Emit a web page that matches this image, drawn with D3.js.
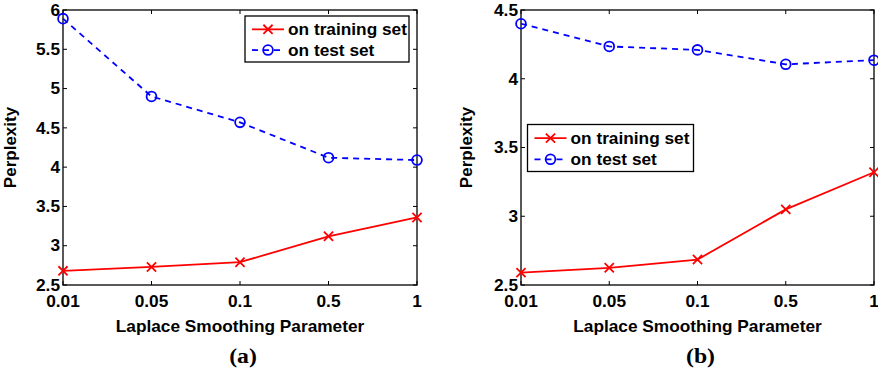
<!DOCTYPE html>
<html>
<head>
<meta charset="utf-8">
<script src="https://cdn.jsdelivr.net/npm/d3@7"></script>
<style>
  html, body { margin: 0; padding: 0; background: #fff; }
  svg { display: block; }
  text { font-family: "Liberation Sans", Arial, Helvetica, sans-serif; font-weight: bold; fill: #000; }
  .caption { font-family: "Liberation Serif", "Times New Roman", serif; font-weight: bold; }
</style>
</head>
<body>
<svg id="chart" width="878" height="371"></svg>
<script>
// Smoothing parameter values (categorical x axis)
const categories = ["0.01", "0.05", "0.1", "0.5", "1"];

// Panel (a) perplexity
const trainA = [2.68, 2.73, 2.79, 3.12, 3.36];
const testA  = [5.89, 4.90, 4.57, 4.12, 4.09];
const yTicksA = [2.5, 3, 3.5, 4, 4.5, 5, 5.5, 6];

// Panel (b) perplexity
const trainB = [2.59, 2.625, 2.685, 3.05, 3.32];
const testB  = [4.40, 4.235, 4.21, 4.105, 4.135];
const yTicksB = [2.5, 3, 3.5, 4, 4.5];

const seriesNames = ["on training set", "on test set"];

const svg = d3.select("#chart");
const FS = 16;      // base label size
const SX = 1.08;    // slight horizontal widening of label glyphs

// horizontal text with a slightly widened glyph shape
function label(g, x, y, str, anchor, size, cls) {
  const t = g.append("g").attr("transform", `translate(${x},${y}) scale(${SX},1)`)
    .append("text")
    .attr("text-anchor", anchor || "start")
    .style("font-size", (size || FS) + "px")
    .text(str);
  if (cls) t.attr("class", cls);
  return t;
}

function drawPanel(cfg) {
  const { left, right, top, bottom } = cfg;
  const g = svg.append("g");

  const x = d3.scalePoint().domain(categories).range([left, right]);
  const y = d3.scaleLinear().domain(cfg.yDomain).range([bottom, top]);
  const tickLen = 4;

  // frame
  g.append("rect")
    .attr("x", left).attr("y", top)
    .attr("width", right - left).attr("height", bottom - top)
    .attr("fill", "none").attr("stroke", "#000").attr("stroke-width", 1.3);

  // inward ticks on all four sides
  const yTickVals = cfg.yTicks;
  g.selectAll(".ytl").data(yTickVals).join("line")
    .attr("x1", left).attr("x2", left + tickLen)
    .attr("y1", d => y(d)).attr("y2", d => y(d))
    .attr("stroke", "#000");
  g.selectAll(".ytr").data(yTickVals).join("line")
    .attr("x1", right).attr("x2", right - tickLen)
    .attr("y1", d => y(d)).attr("y2", d => y(d))
    .attr("stroke", "#000");
  g.selectAll(".xtb").data(categories).join("line")
    .attr("x1", d => x(d)).attr("x2", d => x(d))
    .attr("y1", bottom).attr("y2", bottom - tickLen)
    .attr("stroke", "#000");
  g.selectAll(".xtt").data(categories).join("line")
    .attr("x1", d => x(d)).attr("x2", d => x(d))
    .attr("y1", top).attr("y2", top + tickLen)
    .attr("stroke", "#000");

  // tick labels
  yTickVals.forEach(v => {
    label(g, left - 3, y(v), d3.format("")(v), "end").attr("dy", "0.36em");
  });
  categories.forEach(c => {
    label(g, x(c), bottom + 22, c, "middle");
  });

  // axis titles
  label(g, (left + right) / 2, bottom + 46.5, "Laplace Smoothing Parameter", "middle");
  g.append("text")
    .attr("transform", `translate(${cfg.ylabelX},${(top + bottom) / 2}) rotate(-90)`)
    .attr("text-anchor", "middle").style("font-size", "17px")
    .text("Perplexity");

  // caption
  label(g, (left + right) / 2 + 3, bottom + 78, cfg.caption, "middle", 22, "caption");

  const line = d3.line().x((d, i) => x(categories[i])).y(d => y(d));
  const lw = 1.8;

  // training series: solid red with x markers
  g.append("path").datum(cfg.train)
    .attr("d", line).attr("fill", "none")
    .attr("stroke", "#ff0000").attr("stroke-width", lw);
  const xs = 4.6;
  const cross = (cx, cy) =>
    `M${cx - xs},${cy - xs}L${cx + xs},${cy + xs}M${cx - xs},${cy + xs}L${cx + xs},${cy - xs}`;
  g.selectAll(".xm").data(cfg.train).join("path")
    .attr("d", (d, i) => cross(x(categories[i]), y(d)))
    .attr("stroke", "#ff0000").attr("stroke-width", lw).attr("fill", "none");

  // test series: dashed blue with open circles
  g.append("path").datum(cfg.test)
    .attr("d", line).attr("fill", "none")
    .attr("stroke", "#0000ff").attr("stroke-width", lw)
    .attr("stroke-dasharray", "6,5");
  g.selectAll(".om").data(cfg.test).join("circle")
    .attr("cx", (d, i) => x(categories[i])).attr("cy", d => y(d))
    .attr("r", 4.9).attr("fill", "none")
    .attr("stroke", "#0000ff").attr("stroke-width", lw);

  // legend
  const L = cfg.legend;
  g.append("rect")
    .attr("x", L.x).attr("y", L.y).attr("width", L.w).attr("height", L.h)
    .attr("fill", "#fff").attr("stroke", "#000").attr("stroke-width", 1.3);
  const rowY = [L.y + L.h * 0.29, L.y + L.h * 0.74];
  const lx0 = L.x + 7, lx1 = L.x + 39, lxm = (lx0 + lx1) / 2;
  // training entry
  g.append("line").attr("x1", lx0).attr("x2", lx1).attr("y1", rowY[0]).attr("y2", rowY[0])
    .attr("stroke", "#ff0000").attr("stroke-width", lw);
  g.append("path").attr("d", cross(lxm, rowY[0]))
    .attr("stroke", "#ff0000").attr("stroke-width", lw);
  // test entry
  g.append("line").attr("x1", lx0).attr("x2", lx1).attr("y1", rowY[1]).attr("y2", rowY[1])
    .attr("stroke", "#0000ff").attr("stroke-width", lw).attr("stroke-dasharray", "6,5");
  g.append("circle").attr("cx", lxm).attr("cy", rowY[1]).attr("r", 4.9)
    .attr("fill", "none").attr("stroke", "#0000ff").attr("stroke-width", lw);
  seriesNames.forEach((s, i) => {
    label(g, L.x + 43, rowY[i], s, "start").attr("dy", "0.36em");
  });
}

drawPanel({
  left: 63, right: 417, top: 10, bottom: 285,
  yDomain: [2.5, 6], yTicks: yTicksA,
  train: trainA, test: testA, caption: "(a)", ylabelX: 16,
  legend: { x: 245, y: 16, w: 164, h: 46 }
});

drawPanel({
  left: 521, right: 874, top: 10, bottom: 285,
  yDomain: [2.5, 4.5], yTicks: yTicksB,
  train: trainB, test: testB, caption: "(b)", ylabelX: 472,
  legend: { x: 527.5, y: 124.5, w: 166, h: 47 }
});
</script>
</body>
</html>
